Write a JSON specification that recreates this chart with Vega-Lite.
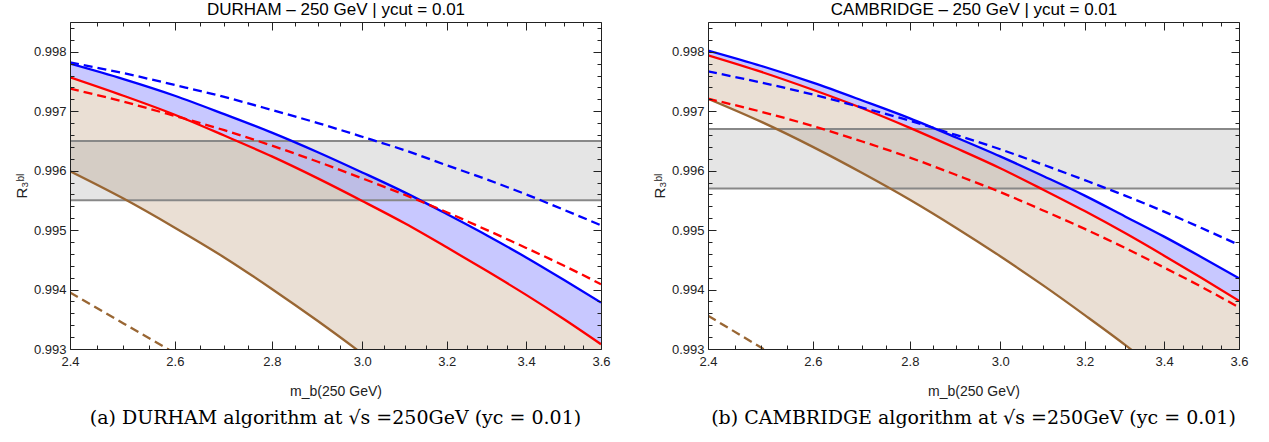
{
  "$schema": "https://vega.github.io/schema/vega-lite/v6.json",
  "padding": {"left": 14, "top": 0, "right": 0, "bottom": 0},
  "background": "white",
  "config": {"view": {"stroke": null}},
  "spacing": 41,
  "datasets": {
    "curves": [
      {"p": "D", "x": 2.4, "bs": 0.99780, "rs": 0.99757, "bd": 0.99782, "rd": 0.99738, "ns": 0.99599, "nd": 0.99395},
      {"p": "D", "x": 2.5, "bs": 0.99754, "rs": 0.99726, "bd": 0.99764, "rd": 0.99716, "ns": 0.99553, "nd": 0.99343},
      {"p": "D", "x": 2.6, "bs": 0.99726, "rs": 0.99694, "bd": 0.99744, "rd": 0.99692, "ns": 0.99504, "nd": 0.99293},
      {"p": "D", "x": 2.7, "bs": 0.99695, "rs": 0.99659, "bd": 0.99724, "rd": 0.99668, "ns": 0.99454, "nd": 0.99244},
      {"p": "D", "x": 2.8, "bs": 0.99664, "rs": 0.99624, "bd": 0.99702, "rd": 0.99642, "ns": 0.99401},
      {"p": "D", "x": 2.9, "bs": 0.99631, "rs": 0.99587, "bd": 0.99680, "rd": 0.99615, "ns": 0.99347},
      {"p": "D", "x": 3.0, "bs": 0.99597, "rs": 0.99549, "bd": 0.99657, "rd": 0.99587, "ns": 0.99292},
      {"p": "D", "x": 3.1, "bs": 0.99563, "rs": 0.99511, "bd": 0.99634, "rd": 0.99559, "ns": 0.99235},
      {"p": "D", "x": 3.2, "bs": 0.99527, "rs": 0.99471, "bd": 0.99609, "rd": 0.99530, "ns": 0.99177},
      {"p": "D", "x": 3.3, "bs": 0.99491, "rs": 0.99431, "bd": 0.99585, "rd": 0.99500, "ns": 0.99119},
      {"p": "D", "x": 3.4, "bs": 0.99454, "rs": 0.99391, "bd": 0.99560, "rd": 0.99470, "ns": 0.99059},
      {"p": "D", "x": 3.5, "bs": 0.99416, "rs": 0.99350, "bd": 0.99534, "rd": 0.99440, "ns": 0.98999},
      {"p": "D", "x": 3.6, "bs": 0.99378, "rs": 0.99308, "bd": 0.99508, "rd": 0.99409, "ns": 0.98938},
      {"p": "C", "x": 2.4, "bs": 0.99802, "rs": 0.99794, "bd": 0.99767, "rd": 0.99721, "ns": 0.99721, "nd": 0.99356},
      {"p": "C", "x": 2.5, "bs": 0.99776, "rs": 0.99766, "bd": 0.99748, "rd": 0.99699, "ns": 0.99682, "nd": 0.99302},
      {"p": "C", "x": 2.6, "bs": 0.99748, "rs": 0.99736, "bd": 0.99728, "rd": 0.99675, "ns": 0.99640, "nd": 0.99250},
      {"p": "C", "x": 2.7, "bs": 0.99718, "rs": 0.99705, "bd": 0.99706, "rd": 0.99649, "ns": 0.99596},
      {"p": "C", "x": 2.8, "bs": 0.99688, "rs": 0.99672, "bd": 0.99684, "rd": 0.99622, "ns": 0.99551},
      {"p": "C", "x": 2.9, "bs": 0.99656, "rs": 0.99638, "bd": 0.99660, "rd": 0.99593, "ns": 0.99504},
      {"p": "C", "x": 3.0, "bs": 0.99624, "rs": 0.99604, "bd": 0.99636, "rd": 0.99564, "ns": 0.99456},
      {"p": "C", "x": 3.1, "bs": 0.99591, "rs": 0.99568, "bd": 0.99610, "rd": 0.99533, "ns": 0.99407},
      {"p": "C", "x": 3.2, "bs": 0.99558, "rs": 0.99532, "bd": 0.99584, "rd": 0.99502, "ns": 0.99357},
      {"p": "C", "x": 3.3, "bs": 0.99523, "rs": 0.99495, "bd": 0.99558, "rd": 0.99470, "ns": 0.99307},
      {"p": "C", "x": 3.4, "bs": 0.99489, "rs": 0.99457, "bd": 0.99531, "rd": 0.99437, "ns": 0.99255},
      {"p": "C", "x": 3.5, "bs": 0.99454, "rs": 0.99419, "bd": 0.99503, "rd": 0.99404, "ns": 0.99203},
      {"p": "C", "x": 3.6, "bs": 0.99419, "rs": 0.99381, "bd": 0.99475, "rd": 0.99370, "ns": 0.99151}
    ],
    "bands": [
      {"p": "D", "lo": 0.9955, "hi": 0.9965},
      {"p": "C", "lo": 0.9957, "hi": 0.9967}
    ]
  },
  "hconcat": [
    {
      "width": 531, "height": 327,
      "title": {"text": "(a) DURHAM algorithm at √s =250GeV (yc = 0.01)", "orient": "bottom", "font": "DejaVu Serif", "fontSize": 19, "fontWeight": "normal", "color": "#000", "offset": 11},
      "data": {"name": "curves"},
      "transform": [{"filter": "datum.p === 'D'"}],
      "resolve": {"axis": {"x": "independent", "y": "independent"}},
      "layer": [
        {"mark": {"type": "area", "color": "#eadfd4", "clip": true, "interpolate": "monotone"},
         "encoding": {
           "x": {"field": "x", "type": "quantitative", "scale": {"type": "log", "domain": [2.4, 3.6], "nice": false},
                 "axis": {"orient": "bottom", "values": [2.4, 2.6, 2.8, 3.0, 3.2, 3.4, 3.6], "format": ".1f", "tickSize": -8, "tickColor": "#222", "domainColor": "#222", "labelFont": "Liberation Sans", "labelFontSize": 13, "labelColor": "#222", "labelPadding": 14, "labelFlush": false, "labelOverlap": false, "grid": false, "zindex": 2, "title": "m_b(250 GeV)", "titleFont": "Liberation Sans", "titleFontSize": 14, "titleFontWeight": "normal", "titleColor": "#222", "titlePadding": 16}},
           "y": {"field": "rs", "type": "quantitative", "scale": {"domain": [0.993, 0.9985], "nice": false, "zero": false},
                 "axis": {"orient": "left", "values": [0.993, 0.994, 0.995, 0.996, 0.997, 0.998], "format": ".3f", "tickSize": -8, "tickColor": "#222", "domainColor": "#222", "labelFont": "Liberation Sans", "labelFontSize": 13, "labelColor": "#222", "labelPadding": 12, "labelOverlap": false, "grid": false, "zindex": 2, "title": "R₃ᵇˡ", "titleFont": "Liberation Sans", "titleFontSize": 15, "titleFontWeight": "normal", "titleColor": "#222", "titlePadding": 4}},
           "y2": {"field": "ns"}
         }},
        {"mark": {"type": "area", "color": "#c8c8ff", "clip": true, "interpolate": "monotone"},
         "encoding": {
           "x": {"field": "x", "type": "quantitative", "scale": {"type": "log", "domain": [2.4, 3.6], "nice": false},
                 "axis": {"orient": "bottom", "values": [2.45, 2.5, 2.55, 2.65, 2.7, 2.75, 2.85, 2.9, 2.95, 3.05, 3.1, 3.15, 3.25, 3.3, 3.35, 3.45, 3.5, 3.55], "labels": false, "domain": false, "tickSize": -4, "tickColor": "#222", "grid": false, "zindex": 2, "title": null}},
           "y": {"field": "bs", "type": "quantitative", "scale": {"domain": [0.993, 0.9985], "nice": false, "zero": false},
                 "axis": {"orient": "left", "values": [0.9932, 0.9934, 0.9936, 0.9938, 0.9942, 0.9944, 0.9946, 0.9948, 0.9952, 0.9954, 0.9956, 0.9958, 0.9962, 0.9964, 0.9966, 0.9968, 0.9972, 0.9974, 0.9976, 0.9978, 0.9982, 0.9984], "labels": false, "domain": false, "tickSize": -4, "tickColor": "#222", "grid": false, "zindex": 2, "title": null}},
           "y2": {"field": "rs"}
         }},
        {"data": {"name": "bands"}, "transform": [{"filter": "datum.p === 'D'"}],
         "mark": {"type": "rect", "color": "#a0a0a0", "opacity": 0.27},
         "encoding": {
           "y": {"field": "lo", "type": "quantitative", "scale": {"domain": [0.993, 0.9985], "nice": false, "zero": false}, "axis": null},
           "y2": {"field": "hi"}
         }},
        {"data": {"name": "bands"}, "transform": [{"filter": "datum.p === 'D'"}, {"fold": ["lo", "hi"], "as": ["k", "b"]}],
         "mark": {"type": "rule", "color": "#888888", "strokeWidth": 2},
         "encoding": {
           "y": {"field": "b", "type": "quantitative", "scale": {"domain": [0.993, 0.9985], "nice": false, "zero": false}, "axis": null}
         }},
        {"transform": [{"fold": ["bs", "rs", "ns"], "as": ["s", "v"]}],
         "mark": {"type": "line", "clip": true, "strokeWidth": 2.3, "interpolate": "monotone"},
         "encoding": {
           "x": {"field": "x", "type": "quantitative", "scale": {"type": "log", "domain": [2.4, 3.6], "nice": false},
                 "axis": {"orient": "top", "values": [2.4, 2.6, 2.8, 3.0, 3.2, 3.4, 3.6], "labels": false, "tickSize": -8, "tickColor": "#222", "domainColor": "#222", "grid": false, "zindex": 2, "title": "DURHAM – 250 GeV | ycut = 0.01", "titleFont": "Liberation Sans", "titleFontSize": 17, "titleFontWeight": "normal", "titleColor": "#000", "titlePadding": 3}},
           "y": {"field": "v", "type": "quantitative", "scale": {"domain": [0.993, 0.9985], "nice": false, "zero": false},
                 "axis": {"orient": "right", "values": [0.993, 0.994, 0.995, 0.996, 0.997, 0.998], "labels": false, "tickSize": -8, "tickColor": "#222", "domainColor": "#222", "grid": false, "zindex": 2, "title": null}},
           "color": {"field": "s", "type": "nominal", "scale": {"domain": ["bs", "rs", "ns", "bd", "rd", "nd"], "range": ["#0000ff", "#ff0000", "#996633", "#0000ff", "#ff0000", "#996633"]}, "legend": null}
         }},
        {"transform": [{"fold": ["bd", "rd", "nd"], "as": ["s", "v"]}, {"filter": "isValid(datum.v)"}],
         "mark": {"type": "line", "clip": true, "strokeWidth": 2.3, "strokeDash": [9, 5], "interpolate": "monotone"},
         "encoding": {
           "x": {"field": "x", "type": "quantitative", "scale": {"type": "log", "domain": [2.4, 3.6], "nice": false},
                 "axis": {"orient": "top", "values": [2.45, 2.5, 2.55, 2.65, 2.7, 2.75, 2.85, 2.9, 2.95, 3.05, 3.1, 3.15, 3.25, 3.3, 3.35, 3.45, 3.5, 3.55], "labels": false, "domain": false, "tickSize": -4, "tickColor": "#222", "grid": false, "zindex": 2, "title": null}},
           "y": {"field": "v", "type": "quantitative", "scale": {"domain": [0.993, 0.9985], "nice": false, "zero": false},
                 "axis": {"orient": "right", "values": [0.9932, 0.9934, 0.9936, 0.9938, 0.9942, 0.9944, 0.9946, 0.9948, 0.9952, 0.9954, 0.9956, 0.9958, 0.9962, 0.9964, 0.9966, 0.9968, 0.9972, 0.9974, 0.9976, 0.9978, 0.9982, 0.9984], "labels": false, "domain": false, "tickSize": -4, "tickColor": "#222", "grid": false, "zindex": 2, "title": null}},
           "color": {"field": "s", "type": "nominal", "scale": {"domain": ["bs", "rs", "ns", "bd", "rd", "nd"], "range": ["#0000ff", "#ff0000", "#996633", "#0000ff", "#ff0000", "#996633"]}, "legend": null}
         }}
      ]
    },
    {
      "width": 531, "height": 327,
      "title": {"text": "(b) CAMBRIDGE algorithm at √s =250GeV (yc = 0.01)", "orient": "bottom", "font": "DejaVu Serif", "fontSize": 19, "fontWeight": "normal", "color": "#000", "offset": 11},
      "data": {"name": "curves"},
      "transform": [{"filter": "datum.p === 'C'"}],
      "resolve": {"axis": {"x": "independent", "y": "independent"}},
      "layer": [
        {"mark": {"type": "area", "color": "#eadfd4", "clip": true, "interpolate": "monotone"},
         "encoding": {
           "x": {"field": "x", "type": "quantitative", "scale": {"type": "log", "domain": [2.4, 3.6], "nice": false},
                 "axis": {"orient": "bottom", "values": [2.4, 2.6, 2.8, 3.0, 3.2, 3.4, 3.6], "format": ".1f", "tickSize": -8, "tickColor": "#222", "domainColor": "#222", "labelFont": "Liberation Sans", "labelFontSize": 13, "labelColor": "#222", "labelPadding": 14, "labelFlush": false, "labelOverlap": false, "grid": false, "zindex": 2, "title": "m_b(250 GeV)", "titleFont": "Liberation Sans", "titleFontSize": 14, "titleFontWeight": "normal", "titleColor": "#222", "titlePadding": 16}},
           "y": {"field": "rs", "type": "quantitative", "scale": {"domain": [0.993, 0.9985], "nice": false, "zero": false},
                 "axis": {"orient": "left", "values": [0.993, 0.994, 0.995, 0.996, 0.997, 0.998], "format": ".3f", "tickSize": -8, "tickColor": "#222", "domainColor": "#222", "labelFont": "Liberation Sans", "labelFontSize": 13, "labelColor": "#222", "labelPadding": 12, "labelOverlap": false, "grid": false, "zindex": 2, "title": "R₃ᵇˡ", "titleFont": "Liberation Sans", "titleFontSize": 15, "titleFontWeight": "normal", "titleColor": "#222", "titlePadding": 4}},
           "y2": {"field": "ns"}
         }},
        {"mark": {"type": "area", "color": "#c8c8ff", "clip": true, "interpolate": "monotone"},
         "encoding": {
           "x": {"field": "x", "type": "quantitative", "scale": {"type": "log", "domain": [2.4, 3.6], "nice": false},
                 "axis": {"orient": "bottom", "values": [2.45, 2.5, 2.55, 2.65, 2.7, 2.75, 2.85, 2.9, 2.95, 3.05, 3.1, 3.15, 3.25, 3.3, 3.35, 3.45, 3.5, 3.55], "labels": false, "domain": false, "tickSize": -4, "tickColor": "#222", "grid": false, "zindex": 2, "title": null}},
           "y": {"field": "bs", "type": "quantitative", "scale": {"domain": [0.993, 0.9985], "nice": false, "zero": false},
                 "axis": {"orient": "left", "values": [0.9932, 0.9934, 0.9936, 0.9938, 0.9942, 0.9944, 0.9946, 0.9948, 0.9952, 0.9954, 0.9956, 0.9958, 0.9962, 0.9964, 0.9966, 0.9968, 0.9972, 0.9974, 0.9976, 0.9978, 0.9982, 0.9984], "labels": false, "domain": false, "tickSize": -4, "tickColor": "#222", "grid": false, "zindex": 2, "title": null}},
           "y2": {"field": "rs"}
         }},
        {"data": {"name": "bands"}, "transform": [{"filter": "datum.p === 'C'"}],
         "mark": {"type": "rect", "color": "#a0a0a0", "opacity": 0.27},
         "encoding": {
           "y": {"field": "lo", "type": "quantitative", "scale": {"domain": [0.993, 0.9985], "nice": false, "zero": false}, "axis": null},
           "y2": {"field": "hi"}
         }},
        {"data": {"name": "bands"}, "transform": [{"filter": "datum.p === 'C'"}, {"fold": ["lo", "hi"], "as": ["k", "b"]}],
         "mark": {"type": "rule", "color": "#888888", "strokeWidth": 2},
         "encoding": {
           "y": {"field": "b", "type": "quantitative", "scale": {"domain": [0.993, 0.9985], "nice": false, "zero": false}, "axis": null}
         }},
        {"transform": [{"fold": ["bs", "rs", "ns"], "as": ["s", "v"]}],
         "mark": {"type": "line", "clip": true, "strokeWidth": 2.3, "interpolate": "monotone"},
         "encoding": {
           "x": {"field": "x", "type": "quantitative", "scale": {"type": "log", "domain": [2.4, 3.6], "nice": false},
                 "axis": {"orient": "top", "values": [2.4, 2.6, 2.8, 3.0, 3.2, 3.4, 3.6], "labels": false, "tickSize": -8, "tickColor": "#222", "domainColor": "#222", "grid": false, "zindex": 2, "title": "CAMBRIDGE – 250 GeV | ycut = 0.01", "titleFont": "Liberation Sans", "titleFontSize": 17, "titleFontWeight": "normal", "titleColor": "#000", "titlePadding": 3}},
           "y": {"field": "v", "type": "quantitative", "scale": {"domain": [0.993, 0.9985], "nice": false, "zero": false},
                 "axis": {"orient": "right", "values": [0.993, 0.994, 0.995, 0.996, 0.997, 0.998], "labels": false, "tickSize": -8, "tickColor": "#222", "domainColor": "#222", "grid": false, "zindex": 2, "title": null}},
           "color": {"field": "s", "type": "nominal", "scale": {"domain": ["bs", "rs", "ns", "bd", "rd", "nd"], "range": ["#0000ff", "#ff0000", "#996633", "#0000ff", "#ff0000", "#996633"]}, "legend": null}
         }},
        {"transform": [{"fold": ["bd", "rd", "nd"], "as": ["s", "v"]}, {"filter": "isValid(datum.v)"}],
         "mark": {"type": "line", "clip": true, "strokeWidth": 2.3, "strokeDash": [9, 5], "interpolate": "monotone"},
         "encoding": {
           "x": {"field": "x", "type": "quantitative", "scale": {"type": "log", "domain": [2.4, 3.6], "nice": false},
                 "axis": {"orient": "top", "values": [2.45, 2.5, 2.55, 2.65, 2.7, 2.75, 2.85, 2.9, 2.95, 3.05, 3.1, 3.15, 3.25, 3.3, 3.35, 3.45, 3.5, 3.55], "labels": false, "domain": false, "tickSize": -4, "tickColor": "#222", "grid": false, "zindex": 2, "title": null}},
           "y": {"field": "v", "type": "quantitative", "scale": {"domain": [0.993, 0.9985], "nice": false, "zero": false},
                 "axis": {"orient": "right", "values": [0.9932, 0.9934, 0.9936, 0.9938, 0.9942, 0.9944, 0.9946, 0.9948, 0.9952, 0.9954, 0.9956, 0.9958, 0.9962, 0.9964, 0.9966, 0.9968, 0.9972, 0.9974, 0.9976, 0.9978, 0.9982, 0.9984], "labels": false, "domain": false, "tickSize": -4, "tickColor": "#222", "grid": false, "zindex": 2, "title": null}},
           "color": {"field": "s", "type": "nominal", "scale": {"domain": ["bs", "rs", "ns", "bd", "rd", "nd"], "range": ["#0000ff", "#ff0000", "#996633", "#0000ff", "#ff0000", "#996633"]}, "legend": null}
         }}
      ]
    }
  ]
}
